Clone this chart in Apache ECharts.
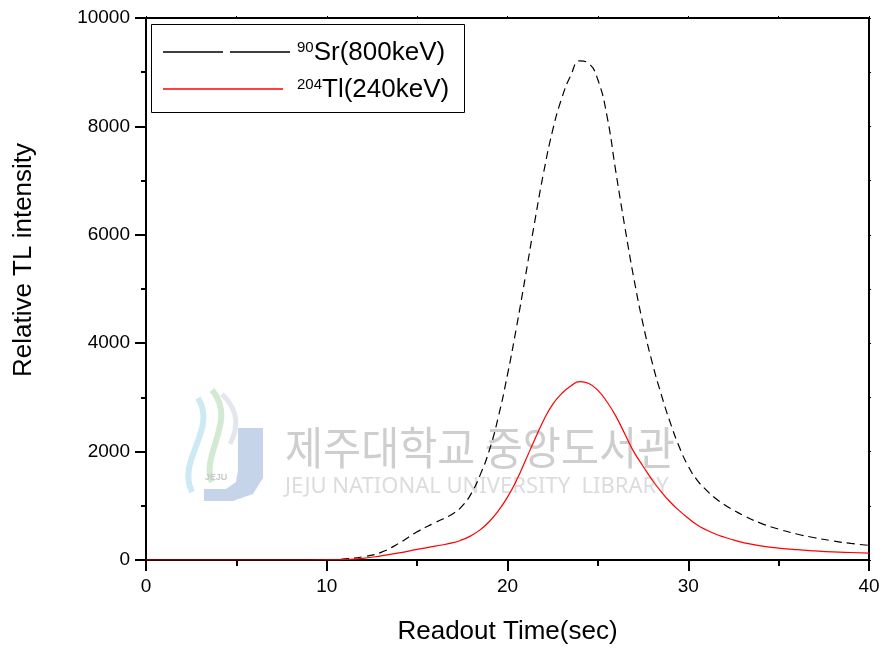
<!DOCTYPE html>
<html>
<head>
<meta charset="utf-8">
<title>TL glow curves</title>
<script src="https://cdn.jsdelivr.net/npm/echarts@6/dist/echarts.min.js"></script>
<style>
  html, body { margin: 0; padding: 0; background: #fff; }
  #chart { width: 887px; height: 650px; }
</style>
</head>
<body>
<div id="chart"></div>
<script>
// Readout time (s) shared by both glow curves
const timeSec = [0, 2, 4, 6, 8, 10, 11, 12, 13, 14, 15, 16, 17,
  17.5, 18, 18.5, 19, 19.5, 20, 20.5, 21, 21.5, 22, 22.5, 23, 23.5, 24, 24.5,
  25, 25.5, 26, 26.5, 27, 27.5, 28, 28.5, 29, 29.5, 30, 30.5, 31, 31.5, 32, 32.5,
  33, 34, 35, 36, 37, 38, 39, 40];

// 90Sr (800 keV) relative TL intensity
const srIntensity = [0, 0, 0, 0, 0, 5, 20, 60, 140, 310, 520, 690, 860,
  1000, 1230, 1580, 2030, 2650, 3420, 4300, 5250, 6230, 7150, 7930, 8520, 8940, 9210, 9160,
  8860, 8200, 7150, 6130, 5180, 4350, 3650, 3060, 2540, 2090, 1730, 1470, 1290, 1140, 1020, 920,
  830, 680, 570, 480, 410, 352, 305, 270];

// 204Tl (240 keV) relative TL intensity
const tlIntensity = [0, 0, 0, 0, 0, 2, 8, 30, 75, 130, 195, 255, 320,
  375, 450, 560, 710, 910, 1160, 1470, 1840, 2220, 2580, 2870, 3070, 3210, 3290, 3255,
  3130, 2920, 2650, 2320, 1990, 1730, 1480, 1260, 1070, 910, 770, 645, 555, 480, 420, 370,
  325, 262, 220, 190, 168, 150, 138, 128];

const xTicks = [0, 10, 20, 30, 40];
const yTicks = [0, 2000, 4000, 6000, 8000, 10000];

const seriesNames = ['Sr', 'Tl'];
const seriesColors = ['#000000', '#ff0000'];
const legendLabels = ['{sup|90}{main|Sr(800keV)}', '{sup|204}{main|Tl(240keV)}'];

const FONT = '"Liberation Sans", Arial, sans-serif';

const pairs = (xs, ys) => xs.map((x, i) => [x, ys[i]]);

const chart = echarts.init(document.getElementById('chart'), null, { renderer: 'canvas' });

const axisLineStyle = { color: '#000', width: 2 };

// Legend panel: framed box with line samples and superscripted isotope labels
const legendBox = { x: 151, y: 24, w: 313, h: 88 };
const legendRows = [52, 89];
const legendGraphics = [
  {
    type: 'rect', z: 20, silent: true,
    shape: { x: legendBox.x + 0.5, y: legendBox.y + 0.5, width: legendBox.w, height: legendBox.h },
    style: { fill: '#fff', stroke: '#000', lineWidth: 1 }
  },
  {
    type: 'line', z: 21, silent: true,
    shape: { x1: 163, y1: legendRows[0], x2: 290, y2: legendRows[0] },
    style: { stroke: seriesColors[0], lineWidth: 1.3, lineDash: [60, 7] }
  },
  {
    type: 'line', z: 21, silent: true,
    shape: { x1: 163, y1: legendRows[1], x2: 283, y2: legendRows[1] },
    style: { stroke: seriesColors[1], lineWidth: 1.5 }
  }
].concat(legendLabels.map((label, i) => ({
  type: 'text', z: 21, silent: true,
  x: 297, y: legendRows[i] + 1,
  style: {
    text: label, fill: '#000', textVerticalAlign: 'middle',
    rich: {
      sup: { fontSize: 15, fontFamily: FONT, fill: '#000', padding: [0, 0, 11, 0] },
      main: { fontSize: 26, fontFamily: FONT, fill: '#000' }
    }
  }
})));

chart.setOption({
  backgroundColor: '#fff',
  animation: false,
  grid: { left: 146, right: 18, top: 18, bottom: 88, containLabel: false },
  xAxis: [
    {
      type: 'value', min: 0, max: 40, interval: 10,
      axisLine: { show: true, onZero: false, lineStyle: axisLineStyle },
      axisTick: { show: true, length: 11, lineStyle: { color: '#000', width: 2 } },
      minorTick: { show: true, splitNumber: 2, length: 6, lineStyle: { color: '#000', width: 2 } },
      splitLine: { show: false },
      axisLabel: {
        color: '#000', fontSize: 19, fontFamily: FONT, margin: 17,
        formatter: v => (xTicks.includes(v) ? String(v) : '')
      },
      name: 'Readout Time(sec)', nameLocation: 'middle', nameGap: 59,
      nameTextStyle: { color: '#000', fontSize: 26, fontFamily: FONT }
    },
    {
      type: 'value', position: 'top', min: 0, max: 40, interval: 10,
      axisLine: { show: true, onZero: false, lineStyle: axisLineStyle },
      axisTick: { show: true, length: 2, lineStyle: { color: '#000', width: 1 } },
      minorTick: { show: true, splitNumber: 2, length: 2, lineStyle: { color: '#000', width: 1 } },
      splitLine: { show: false },
      axisLabel: { show: false }
    }
  ],
  yAxis: [
    {
      type: 'value', min: 0, max: 10000, interval: 2000,
      axisLine: { show: true, onZero: false, lineStyle: axisLineStyle },
      axisTick: { show: true, length: 11, lineStyle: { color: '#000', width: 2 } },
      minorTick: { show: true, splitNumber: 2, length: 5, lineStyle: { color: '#000', width: 2 } },
      splitLine: { show: false },
      axisLabel: {
        color: '#000', fontSize: 19, fontFamily: FONT, margin: 16,
        formatter: v => (yTicks.includes(v) ? String(v) : '')
      }
    },
    {
      type: 'value', position: 'right', min: 0, max: 10000, interval: 2000,
      axisLine: { show: true, onZero: false, lineStyle: axisLineStyle },
      axisTick: { show: true, length: 2, lineStyle: { color: '#000', width: 1 } },
      minorTick: { show: true, splitNumber: 2, length: 2, lineStyle: { color: '#000', width: 1 } },
      splitLine: { show: false },
      axisLabel: { show: false }
    }
  ],
  series: [
    {
      name: seriesNames[0], type: 'line', xAxisIndex: 0, yAxisIndex: 0,
      data: pairs(timeSec, srIntensity),
      showSymbol: false, symbol: 'none', smooth: 0.5,
      lineStyle: { color: seriesColors[0], width: 1.2, type: [8, 5] },
      itemStyle: { color: seriesColors[0] }, z: 3
    },
    {
      name: seriesNames[1], type: 'line', xAxisIndex: 0, yAxisIndex: 0,
      data: pairs(timeSec, tlIntensity),
      showSymbol: false, symbol: 'none', smooth: 0.5,
      lineStyle: { color: seriesColors[1], width: 1.2 },
      itemStyle: { color: seriesColors[1] }, z: 4
    }
  ],
  graphic: [
    // y-axis title
    {
      type: 'text', x: 24, y: 260, z: 10,
      rotation: Math.PI / 2,
      style: {
        text: 'Relative TL intensity', fill: '#000',
        font: '26px "Liberation Sans", Arial, sans-serif',
        textAlign: 'center', textVerticalAlign: 'middle'
      }
    },
    // library watermark: emblem
    {
      type: 'polygon', z: -1, silent: true,
      shape: { points: [[238, 428], [263, 428], [263, 478], [253, 494], [233, 501], [204, 501], [204, 489], [226, 489], [236, 482], [238, 470]] },
      style: { fill: '#bccde6', opacity: 0.85 }
    },
    {
      type: 'bezierCurve', z: -1, silent: true,
      shape: { x1: 212, y1: 390, cpx1: 238, cpy1: 420, cpx2: 200, cpy2: 455, x2: 212, y2: 482 },
      style: { stroke: '#a6d3a6', lineWidth: 6, fill: null, opacity: 0.5 }
    },
    {
      type: 'bezierCurve', z: -1, silent: true,
      shape: { x1: 198, y1: 398, cpx1: 218, cpy1: 430, cpx2: 176, cpy2: 460, x2: 192, y2: 492 },
      style: { stroke: '#9ad3ea', lineWidth: 6, fill: null, opacity: 0.5 }
    },
    {
      type: 'bezierCurve', z: -1, silent: true,
      shape: { x1: 222, y1: 394, cpx1: 240, cpy1: 412, cpx2: 238, cpy2: 428, x2: 230, y2: 444 },
      style: { stroke: '#d0d6e2', lineWidth: 5, fill: null, opacity: 0.6 }
    },
    {
      type: 'text', x: 216, y: 478, z: -1, silent: true,
      style: { text: 'JEJU', fill: '#c9c9c9', font: 'bold 9px "Liberation Sans", sans-serif', textAlign: 'center', textVerticalAlign: 'middle' }
    },
    {
      type: 'text', x: 285, y: 448, z: -1, silent: true,
      scaleX: 0.92, originX: 0, originY: 0,
      style: {
        text: '제주대학교 중앙도서관', fill: '#c6c6c6', opacity: 0.85,
        font: '45px "Noto Sans CJK KR", sans-serif',
        textVerticalAlign: 'middle'
      }
    },
    {
      type: 'text', x: 285, y: 487, z: -1, silent: true,
      style: {
        text: 'JEJU NATIONAL UNIVERSITY  LIBRARY', fill: '#dcdcdc',
        font: '22px "Noto Sans", sans-serif',
        textVerticalAlign: 'middle'
      }
    }
  ].concat(legendGraphics)
});
</script>
</body>
</html>
